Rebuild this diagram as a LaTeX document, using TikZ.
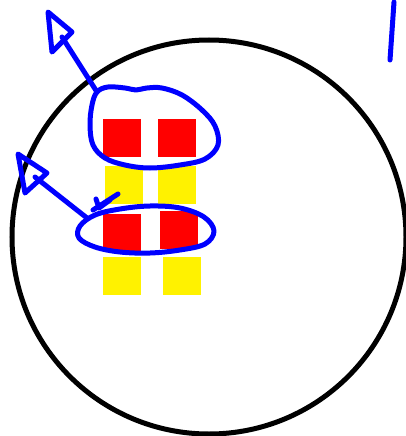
\documentclass[tikz,border=0pt]{standalone}
\begin{document}
\begin{tikzpicture}[x=1pt,y=-1pt,
  ink/.style={draw=blue,line width=5pt,line cap=round,line join=round},
  redsq/.style={fill=red,draw=none,minimum width=38pt,minimum height=38pt,inner sep=0pt,anchor=north west},
  yelsq/.style={fill=yellow,draw=none,minimum width=38pt,minimum height=38pt,inner sep=0pt,anchor=north west}]
\useasboundingbox (0,0) rectangle (405,436);
\fill[white] (0,0) rectangle (405,436);
\node[draw=black,line width=5pt,circle,minimum size=394pt,inner sep=0pt] (ring) at (209,237) {};
\node[redsq] (r1) at (103,119) {};
\node[redsq] (r2) at (158,119) {};
\node[yelsq] (y1) at (105,166) {};
\node[yelsq] (y2) at (158,166) {};
\node[redsq] (r3) at (103,214) {};
\node[redsq] (r4) at (160,211) {};
\node[yelsq] (y3) at (103,257) {};
\node[yelsq] (y4) at (163,257) {};
% loops
\draw[ink] plot[smooth cycle,tension=0.6] coordinates {(97,92) (108,87) (125,88) (136,90) (147,88) (162,88) (182,95) (202,110) (215,126) (218,145) (205,159) (180,165) (150,168) (125,165) (105,158) (93,145) (90,125) (92,105)};
\coordinate (upA) at (97,92);
\draw[ink] plot[smooth cycle,tension=0.6] coordinates {(80,226) (95,215) (120,209) (150,206) (180,208) (204,217) (214,231) (205,244) (180,250) (150,253) (120,252) (95,247) (79,238)};
\coordinate (loA) at (87,218);
% arrows
\coordinate (t1) at (62,37);
\draw[ink] (upA) -- (t1);
\draw[ink] (48,12) -- (72,32) -- (52,52) -- cycle;
\coordinate (t2) at (35,177);
\draw[ink] (loA) -- (t2);
\draw[ink] (18,154) -- (47,173) -- (25,193) -- cycle;
% small arrow mark
\coordinate (m1) at (118,194);
\coordinate (m2) at (93,210);
\draw[ink] (m1) -- (m2);
\draw[ink] (96,199) -- (99,208) -- (110,200);
% right stroke
\coordinate (s1) at (394,2);
\coordinate (s2) at (390,60);
\draw[ink] (s1) -- (s2);
\end{tikzpicture}
\end{document}
